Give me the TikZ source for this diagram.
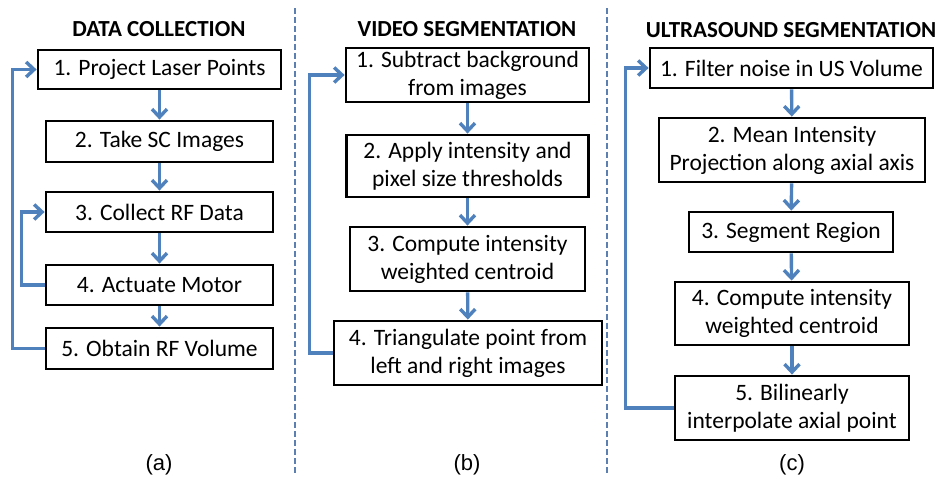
\documentclass[tikz,border=0pt]{standalone}
\usepackage{fontspec}
\setmainfont{Carlito}
\newfontfamily\labfont{Liberation Sans}
\usetikzlibrary{arrows.meta}
\definecolor{arrblue}{HTML}{4F81BD}
\definecolor{dashblue}{HTML}{5A7FB0}
\tikzset{
  box/.style={draw=black, line width=2.8pt, fill=white, inner sep=0pt, align=center,
     font=\fontsize{23.5}{28}\selectfont},
  arr/.style={draw=arrblue, line width=3.4pt, -{Straight Barb[length=8pt,width=15pt]}},
  ttl/.style={font=\fontsize{23}{26}\selectfont\bfseries, inner sep=0pt},
  lab/.style={font=\fontsize{22}{26}\labfont, inner sep=0pt},
  sep/.style={draw=dashblue, line width=2pt, dash pattern=on 6pt off 3pt}
}
\begin{document}
\begin{tikzpicture}[x=1pt,y=-1pt]
\useasboundingbox (0,0) rectangle (938,481);
% separators
\coordinate (s1t) at (295,8); \coordinate (s1b) at (295,475);
\coordinate (s2t) at (607,8); \coordinate (s2b) at (607,475);
\draw[sep] (s1t) -- (s1b);
\draw[sep] (s2t) -- (s2b);
% titles
\node[ttl] (ta) at (159,29) {DATA COLLECTION};
\node[ttl] (tb) at (467,29) {VIDEO SEGMENTATION};
\node[ttl] (tc) at (791,30) {ULTRASOUND SEGMENTATION};
% panel a
\node[box, minimum width=243, minimum height=39] (a1) at (159.5,69.5) {1. Project Laser Points};
\node[box, minimum width=227, minimum height=41] (a2) at (159.5,141.5) {2. Take SC Images};
\node[box, minimum width=227, minimum height=40] (a3) at (159.5,212) {3. Collect RF Data};
\node[box, minimum width=227, minimum height=40] (a4) at (159.5,285) {4. Actuate Motor};
\node[box, minimum width=227, minimum height=41] (a5) at (159.5,348.5) {5. Obtain RF Volume};
\draw[arr] (a1) -- (a2);
\draw[arr] (a2) -- (a3);
\draw[arr] (a3) -- (a4);
\draw[arr] (a4) -- (a5);
\draw[arr] (a5.west) -- ++(-32,0) |- (a1.west);
\draw[arr] (a4.west) -- ++(-23,0) |- (a3.west);
% panel b
\node[box, minimum width=243, minimum height=54] (b1) at (467.5,75) {1. Subtract background\\from images};
\node[box, minimum width=242, minimum height=62] (b2) at (467.5,166) {2. Apply intensity and\\pixel size thresholds};
\node[box, minimum width=235, minimum height=64] (b3) at (467.5,259) {3. Compute intensity\\weighted centroid};
\node[box, minimum width=268, minimum height=64] (b4) at (468,353) {4. Triangulate point from\\left and right images};
\draw[arr] (b1) -- (b2);
\draw[arr] (b2) -- (b3);
\draw[arr] (b3) -- (b4);
\draw[arr] (b4.west) -- ++(-23,0) |- (b1.west);
% panel c
\node[box, minimum width=283, minimum height=40] (c1) at (791.5,68) {1. Filter noise in US Volume};
\node[box, minimum width=266, minimum height=64] (c2) at (792,150) {2. Mean Intensity\\Projection along axial axis};
\node[box, minimum width=204, minimum height=40] (c3) at (791,232) {3. Segment Region};
\node[box, minimum width=234, minimum height=63] (c4) at (792,313.5) {4. Compute intensity\\weighted centroid};
\node[box, minimum width=234, minimum height=64] (c5) at (792,408) {5. Bilinearly\\interpolate axial point};
\draw[arr] (c1) -- (c2);
\draw[arr] (c2) -- (c3);
\draw[arr] (c3) -- (c4);
\draw[arr] (c4) -- (c5);
\draw[arr] (c5.west) -- ++(-48,0) |- (c1.west);
% labels
\node[lab] (la) at (159,465) {(a)};
\node[lab] (lb) at (467,465) {(b)};
\node[lab] (lc) at (792,465) {(c)};
\end{tikzpicture}
\end{document}
